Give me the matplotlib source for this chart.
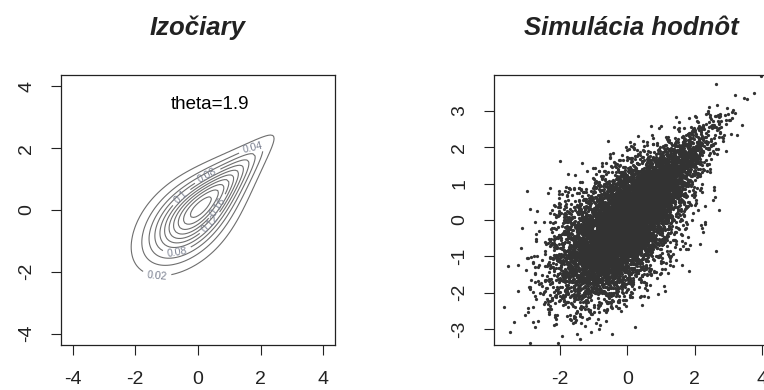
import math
from statistics import NormalDist
import numpy as np
import matplotlib.pyplot as plt

plt.rcParams['font.family'] = ['Liberation Sans', 'DejaVu Sans']
plt.rcParams['axes.unicode_minus'] = False

# Gumbel copula with N(0,1) margins
theta = 1.9
n_sim = 10000
grid_lim = 4.2
grid_n = 121
contour_levels = [0.02, 0.04, 0.06, 0.08, 0.10, 0.12, 0.14, 0.16, 0.18, 0.20, 0.22, 0.24]
label_spots = [(-1.31, -2.10), (1.75, 1.98), (0.32, 1.07), (-0.67, -1.33), (-0.51, 0.39), (0.38, -0.42), (0.64, 0.10)]

left_ticks = [-4, -2, 0, 2, 4]
right_xticks = [-2, 0, 2, 4]
right_yticks = [-3, -2, -1, 0, 1, 2, 3]
titles = ['Izočiary', 'Simulácia hodnôt']

nd = NormalDist()
phi_cdf = np.vectorize(lambda t: 0.5 * (1 + math.erf(t / math.sqrt(2))))


def gumbel_normal_density(x, y):
    u, v = phi_cdf(x), phi_cdf(y)
    a, b = -np.log(u), -np.log(v)
    A = a ** theta + b ** theta
    C = np.exp(-A ** (1 / theta))
    c = C / (u * v) * (a * b) ** (theta - 1) * A ** (2 / theta - 2) * (1 + (theta - 1) * A ** (-1 / theta))
    return c * np.exp(-x ** 2 / 2) * np.exp(-y ** 2 / 2) / (2 * np.pi)


g = np.linspace(-grid_lim, grid_lim, grid_n)
X, Y = np.meshgrid(g, g)
Z = gumbel_normal_density(X, Y)

# simulated sample (Marshall-Olkin with positive stable frailty)
rng = np.random.default_rng(19)
alpha = 1 / theta
W = rng.uniform(0, np.pi, n_sim)
E0 = rng.exponential(1, n_sim)
S = (np.sin(alpha * W) / np.sin(W) ** (1 / alpha)) * (np.sin((1 - alpha) * W) / E0) ** ((1 - alpha) / alpha)
E = rng.exponential(1, (n_sim, 2))
U = np.exp(-(E / S[:, None]) ** alpha)
U = np.clip(U, 1e-12, 1 - 1e-12)
sim = np.vectorize(nd.inv_cdf)(U)

fig = plt.figure(figsize=(7.64, 3.90), dpi=100)
ax1 = fig.add_axes([61 / 764, 45 / 390, 274 / 764, 270 / 390])
ax2 = fig.add_axes([494 / 764, 45 / 390, 274 / 764, 270 / 390])

cs = ax1.contour(X, Y, Z, levels=[l for l in contour_levels if l < Z.max()],
                 colors='#6e6e6e', linewidths=0.8)
ax1.clabel(cs, fontsize=7.5, colors='#7a8090', manual=label_spots, fmt=lambda v: f'{v:g}')
ax1.text(0.544, 0.889, f'theta={theta}', transform=ax1.transAxes, ha='center', va='center', fontsize=13.5)
ax1.set_xlim(-4.37, 4.37)
ax1.set_ylim(-4.37, 4.37)
ax1.set_xticks(left_ticks)
ax1.set_yticks(left_ticks)

ax2.scatter(sim[:, 0], sim[:, 1], s=5.5, color='#333333', linewidths=0)
ax2.set_xlim(-3.96, 4.18)
ax2.set_ylim(-3.44, 3.99)
ax2.set_xticks(right_xticks)
ax2.set_yticks(right_yticks)

for ax, title in zip([ax1, ax2], titles):
    pos = ax.get_position()
    fig.text(pos.x0 + pos.width / 2, 1 - 28 / 390, title, ha='center', va='center',
             fontsize=18.5, fontweight='bold', fontstyle='italic', color='#222222')
    for sp in ax.spines.values():
        sp.set_linewidth(0.9)
        sp.set_color('#222222')
    ax.tick_params(length=7.5, width=0.8, color='#222222', labelsize=14, pad=11, labelcolor='#222222')
    ax.tick_params(axis='y', labelrotation=90)
    for lab in ax.get_yticklabels():
        lab.set_va('center')

fig.savefig('out.png', dpi=100)
